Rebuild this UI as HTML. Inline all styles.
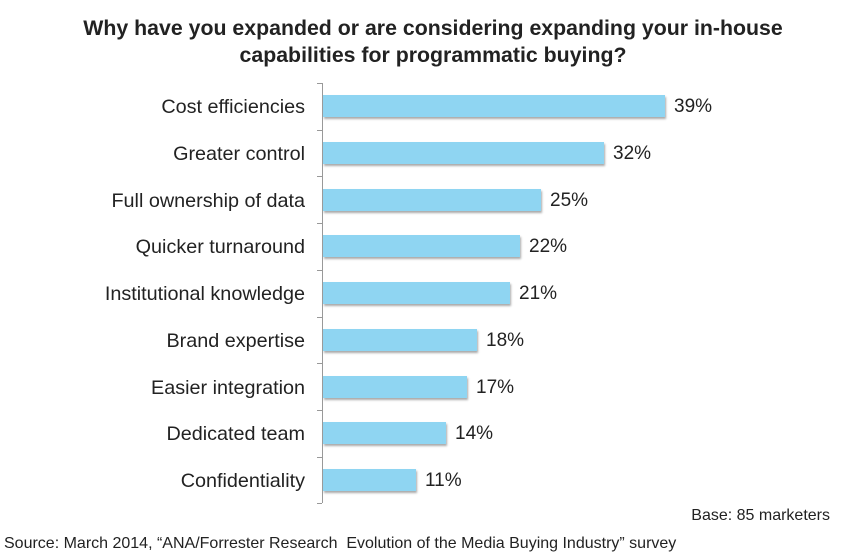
<!DOCTYPE html>
<html><head><style>
body{margin:0;width:842px;height:557px;background:#fff;font-family:"Liberation Sans",Arial,sans-serif;color:#222;position:relative;overflow:hidden}
.t{position:absolute;left:12px;width:842px;text-align:center;font-weight:bold;font-size:21.3px;line-height:27px;top:15px}
.l{position:absolute;right:537px;font-size:19.8px;line-height:22px;text-align:right;white-space:nowrap}
.b{position:absolute;left:323px;height:22px;background:#8fd5f2;box-shadow:1px 2px 2px #aaa}
.v{position:absolute;font-size:19px;line-height:22px}
</style></head><body>
<div class="t">Why have you expanded or are considering expanding your in-house<br>capabilities for programmatic buying?</div>
<div style="position:absolute;left:322px;top:83px;width:1px;height:420px;background:#999"></div>
<div id="c"></div>
<div style="position:absolute;right:12px;top:507px;font-size:16px">Base: 85 marketers</div>
<div style="position:absolute;left:4px;top:535px;font-size:16px">Source: March 2014, “ANA/Forrester Research&nbsp; Evolution of the Media Buying Industry” survey</div>
<script>
var d=[["Cost efficiencies",665,"39%"],["Greater control",604,"32%"],["Full ownership of data",541,"25%"],["Quicker turnaround ",520,"22%"],["Institutional knowledge",510,"21%"],["Brand expertise",477,"18%"],["Easier integration",467,"17%"],["Dedicated team",446,"14%"],["Confidentiality",416,"11%"]];
var h="";
for(var i=0;i<10;i++){var ty=83+i*46.7;h+='<div style="position:absolute;left:317px;top:'+ty+'px;width:5px;height:1px;background:#999"></div>';}
d.forEach(function(r,i){var cy=106+i*46.75;
h+='<div class="l" style="top:'+(cy-10)+'px">'+r[0]+'</div>';
h+='<div class="b" style="top:'+(cy-11)+'px;width:'+(r[1]-323)+'px"></div>';
h+='<div class="v" style="top:'+(cy-10)+'px;left:'+(r[1]+9)+'px">'+r[2]+'</div>';});
document.getElementById("c").innerHTML=h;
</script>
</body></html>
